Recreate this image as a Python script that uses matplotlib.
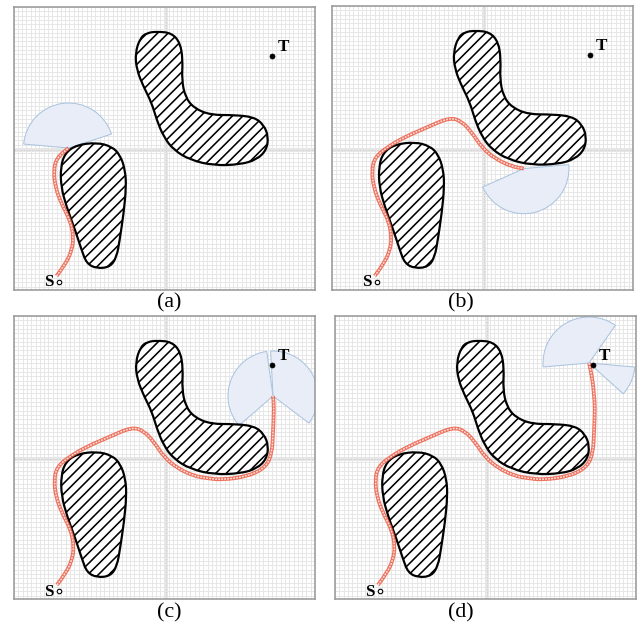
import numpy as np
import matplotlib.pyplot as plt
from matplotlib.path import Path
from matplotlib.patches import PathPatch, Wedge
from matplotlib.collections import LineCollection

#_Style_________________________________________________________________________
# Everything is laid out in pixels of the 641x627 target, so work at 50 dpi
# and convert pixel widths to points with `px`.
dpi = 50
px = 72 / dpi
plt.rcParams['font.family'] = ['Liberation Serif', 'DejaVu Serif']

fig_w, fig_h = 641, 627
panel_w, panel_h = 301, 283
hatch_step = 10.5   # horizontal distance between hatch lines, pixels

#_Data__________________________________________________________________________
# All coordinates are pixels inside one panel, measured from its top-left.

# teardrop shaped obstacle (lower left)
obst1_u = [83, 98, 106.5, 111.5, 112.5, 110, 106, 103, 96.5, 83, 73, 68, 61.5,
           53, 47.5, 47, 51.5, 63]
obst1_v = [135.5, 139.5, 148, 163, 180, 206, 233, 250, 260, 261.5, 256.5, 243,
           223, 200, 180, 160, 146, 138]

# boomerang shaped obstacle (upper middle)
obst2_u = [143, 158, 166.5, 169, 168, 171.5, 180, 196.5, 220, 240, 250, 254.5,
           252.5, 243, 226.5, 200, 176.5, 160, 150, 143, 138, 130, 123, 121.5,
           126.5, 133]
obst2_v = [24.5, 26, 36, 53, 73, 90, 101, 108, 108, 110, 118, 130, 143, 152.5,
           157.5, 158.5, 153, 143, 130, 113, 96, 80, 63, 46, 31, 26]

# start and target
start_uv = (45, 275)
target_uv = (258, 49)

# planned route from S to T
path_u = [43, 52, 58, 60, 57, 48, 42, 40, 43, 55, 72, 95, 118, 130, 140, 150,
          163, 180, 192, 208, 235, 252, 258, 259, 260, 259, 258, 255, 254]
path_v = [269, 257, 244, 231, 214, 197, 181, 164, 151, 141, 131, 121, 111, 115,
          126, 141, 152, 160, 162, 164, 160, 151, 137, 117, 91, 80, 67, 51, 47]

# how far along the route each panel is, and its free-space sectors
# (visual angles in degrees, counter-clockwise from +x)
panel_names = ['(a)', '(b)', '(c)', '(d)']
panel_end = [9, 18, 25, 28]
panel_radius = [45, 45, 45, 46]
panel_sectors = [
    [(18, 175)],
    [(204, 365)],
    [(-37, 93), (98, 221)],
    [(55, 185), (-42, -5)],
]

# panel frames in target pixels: left, top, width, height
panel_box = [(13.5, 7, 301.5, 283), (331.7, 6, 301.3, 284),
             (14, 316, 301, 283), (335, 316, 301, 283)]
label_xy = [(169, 303), (461, 303), (169, 613), (461, 613)]

#_Utility functions_____________________________________________________________

def smooth_closed(u, v):
    """ Closed quadratic B-spline through the outline control points. """
    pts = np.column_stack([u, v])
    mids = (pts + np.roll(pts, -1, axis=0)) / 2
    verts = [mids[-1]]
    codes = [Path.MOVETO]
    for p, m in zip(pts, mids):
        verts += [p, m]
        codes += [Path.CURVE3, Path.CURVE3]
    verts.append(mids[-1])
    codes.append(Path.CLOSEPOLY)
    return Path(verts, codes)


def smooth_open(u, v):
    """ Open quadratic B-spline, from the first to the last point. """
    pts = np.column_stack([u, v])
    verts = [pts[0]]
    codes = [Path.MOVETO]
    for i in range(1, len(pts) - 1):
        verts += [pts[i], (pts[i] + pts[i + 1]) / 2]
        codes += [Path.CURVE3, Path.CURVE3]
    verts.append(pts[-1])
    codes.append(Path.LINETO)
    return Path(verts, codes)


def draw_panel(ax, k):
    ax.set_xlim(0, panel_w)
    ax.set_ylim(panel_h, 0)
    ax.set_xticks([])
    ax.set_yticks([])
    for sp in ax.spines.values():
        sp.set_color('#9a9a9a')
        sp.set_linewidth(1.6 * px)
        sp.set_zorder(10)

    # background grid
    ax.vlines(np.arange(0, panel_w, 4.3), 0, panel_h, color='#e5e5e5',
              lw=0.9 * px, zorder=0)
    ax.hlines(np.arange(0, panel_h, 4.3), 0, panel_w, color='#e5e5e5',
              lw=0.9 * px, zorder=0)
    # centre lines
    ax.axvline(152, color='#e6e6e6', lw=4 * px, zorder=0.5)
    ax.axvline(152, color='#d2d2d2', lw=1 * px, dashes=(1.5, 1.5), zorder=0.6)
    ax.axhline(143, color='#e6e6e6', lw=4 * px, zorder=0.5)
    ax.axhline(143, color='#d2d2d2', lw=1 * px, dashes=(1.5, 1.5), zorder=0.6)

    # free-space sectors around the current position
    cu, cv = path_u[panel_end[k]], path_v[panel_end[k]]
    for a, b in panel_sectors[k]:
        ax.add_patch(Wedge((cu, cv), panel_radius[k], -b, -a,
                           facecolor='#e8edf8', edgecolor='#a9c3df',
                           lw=1 * px, zorder=1))

    # obstacles: white fill, '/' hatching clipped to the outline, black rim
    for u, v in [(obst1_u, obst1_v), (obst2_u, obst2_v)]:
        outline = smooth_closed(u, v)
        face = PathPatch(outline, facecolor='white', edgecolor='none',
                         zorder=2)
        ax.add_patch(face)
        c0, c1 = min(u) + min(v), max(u) + max(v)
        segs = [[(c - min(v) + 5, min(v) - 5), (c - max(v) - 5, max(v) + 5)]
                for c in np.arange(c0 + 3, c1, hatch_step)]
        hatch = LineCollection(segs, colors='black', lw=1.6 * px, zorder=2.1)
        ax.add_collection(hatch)
        hatch.set_clip_path(face)
        ax.add_patch(PathPatch(outline, fill=False, edgecolor='black',
                               lw=2.2 * px, zorder=2.2))

    # route travelled so far
    route = smooth_open(path_u[:panel_end[k] + 1], path_v[:panel_end[k] + 1])
    ax.add_patch(PathPatch(route, fill=False, edgecolor='#ec5a44',
                           lw=3.8 * px, alpha=0.85, capstyle='butt',
                           zorder=3))
    ax.add_patch(PathPatch(route, fill=False, edgecolor='#fde3dc',
                           lw=1.5 * px, linestyle=(0, (1.2, 0.8)),
                           capstyle='butt', zorder=3.1))

    # start and target
    ax.plot(*start_uv, 'o', ms=4.5 * px, mfc='white', mec='black',
            mew=1.1 * px, zorder=4)
    ax.plot(*target_uv, 'o', ms=5 * px, color='black', zorder=4)
    ax.text(start_uv[0] - 10, start_uv[1] + 0.5, 'S', fontsize=17 * px,
            fontweight='bold', ha='center', va='center', zorder=5)
    ax.text(target_uv[0] + 11, target_uv[1] - 9, 'T', fontsize=17 * px,
            fontweight='bold', ha='center', va='center', zorder=5)

#_Figure________________________________________________________________________

fig = plt.figure(figsize=(fig_w / dpi, fig_h / dpi), dpi=dpi)
for k, (left, top, w, h) in enumerate(panel_box):
    ax = fig.add_axes([left / fig_w, 1 - (top + h) / fig_h, w / fig_w,
                       h / fig_h])
    draw_panel(ax, k)
    lx, ly = label_xy[k]
    fig.text(lx / fig_w, 1 - ly / fig_h, panel_names[k], fontsize=22 * px,
             ha='center', va='center')

fig.savefig('out.png', dpi=dpi)
